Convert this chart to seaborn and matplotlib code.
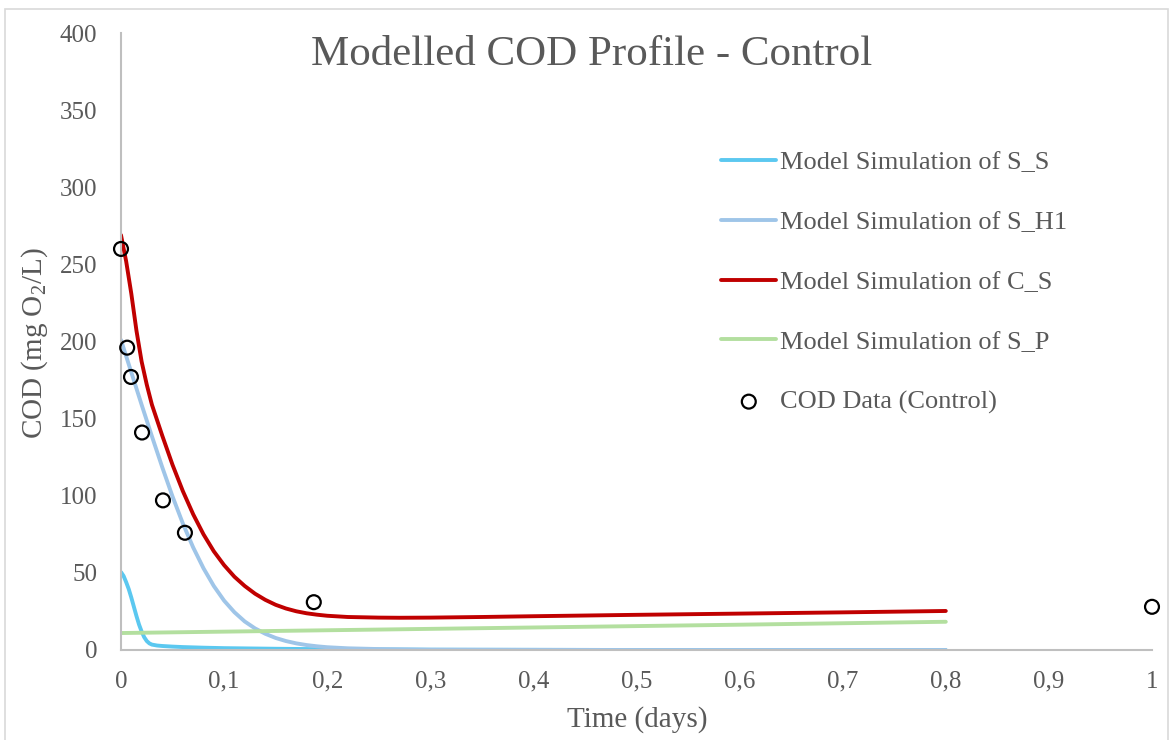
import matplotlib
matplotlib.use("Agg")
import matplotlib.pyplot as plt
import seaborn as sns
import pandas as pd
from matplotlib.patches import Rectangle

# ---------------- data ----------------
t_ss = [0, 0.0025, 0.005, 0.0075, 0.01, 0.0125, 0.015, 0.0175, 0.02, 0.0225, 0.025, 0.0275,
        0.03, 0.035, 0.04, 0.05, 0.06, 0.08, 0.1, 0.15, 0.2, 0.3, 0.4, 0.5, 0.6, 0.7, 0.8]
s_s = [50.5, 48, 44, 39.5, 34, 28, 22, 16.5, 12, 8.3, 5.8, 4.3,
       3.5, 2.9, 2.6, 2.2, 1.9, 1.5, 1.2, 0.8, 0.5, 0.2, 0.1, 0.0, 0.0, 0.0, 0.0]

t_h1 = [0, 0.01, 0.02, 0.03, 0.04, 0.05, 0.06, 0.07, 0.08, 0.09, 0.1, 0.11, 0.12, 0.13,
        0.14, 0.15, 0.16, 0.17, 0.18, 0.19, 0.2, 0.22, 0.25, 0.3, 0.4, 0.5, 0.6, 0.7, 0.8]
s_h1 = [201, 180, 159, 138.5, 118.5, 99.5, 82, 66.5, 53, 41.5, 32, 24.5, 18.5, 14,
        10.5, 7.8, 5.8, 4.3, 3.2, 2.4, 1.8, 1.1, 0.6, 0.2, 0.1, 0.0, 0.0, 0.0, 0.0]

t_cs = [0, 0.005, 0.01, 0.015, 0.02, 0.025, 0.03, 0.04, 0.05, 0.06, 0.07, 0.08, 0.09,
        0.1, 0.11, 0.12, 0.13, 0.14, 0.15, 0.16, 0.17, 0.18, 0.19, 0.2, 0.22, 0.25, 0.27,
        0.3, 0.35, 0.4, 0.5, 0.6, 0.7, 0.8]
c_s = [269, 252, 231, 207, 187, 172, 159, 139, 120, 103, 88, 75, 64,
       55, 47.5, 41.5, 36.5, 32.5, 29.3, 26.9, 25.1, 23.8, 22.9, 22.2, 21.4, 21.0, 20.9,
       21.0, 21.4, 21.9, 22.8, 23.6, 24.4, 25.3]

t_sp = [0, 0.2, 0.4, 0.6, 0.8]
s_p = [11.0, 12.8, 14.6, 16.4, 18.3]

t_obs = [0, 0.006, 0.0097, 0.0204, 0.0407, 0.062, 0.187, 1.0]
cod_obs = [260, 196, 177, 141, 97, 76, 31, 28]

x_ticks = [0, 0.1, 0.2, 0.3, 0.4, 0.5, 0.6, 0.7, 0.8, 0.9, 1.0]
x_tick_labels = ["0", "0,1", "0,2", "0,3", "0,4", "0,5", "0,6", "0,7", "0,8", "0,9", "1"]
y_ticks = [0, 50, 100, 150, 200, 250, 300, 350, 400]

series_names = ["Model Simulation of S_S", "Model Simulation of S_H1",
                "Model Simulation of C_S", "Model Simulation of S_P"]
obs_name = "COD Data (Control)"
title = "Modelled COD Profile - Control"

# ---------------- style ----------------
sns.set_theme(style="white")
plt.rcParams["font.family"] = ["Liberation Serif", "DejaVu Serif"]
plt.rcParams["mathtext.fontset"] = "custom"
plt.rcParams["mathtext.rm"] = "Liberation Serif"
plt.rcParams["mathtext.it"] = "Liberation Serif:italic"
TXT = "#595959"

fig = plt.figure(figsize=(11.73, 7.40), dpi=100)
ax = fig.add_axes([121 / 1173, 1 - 650 / 740, (1152 - 121) / 1173, (650 - 33) / 740])

colors = ["#5BC8F0", "#9FC5E8", "#C00000", "#B3DF9F"]
frames = [
    pd.DataFrame({"t": t_ss, "v": s_s}),
    pd.DataFrame({"t": t_h1, "v": s_h1}),
    pd.DataFrame({"t": t_cs, "v": c_s}),
    pd.DataFrame({"t": t_sp, "v": s_p}),
]
order = [3, 1, 0, 2]  # draw order: green, light blue, cyan, red
for i in order:
    sns.lineplot(data=frames[i], x="t", y="v", ax=ax, color=colors[i], lw=2.8,
                 label=series_names[i], solid_capstyle="round", solid_joinstyle="round",
                 zorder=2 + i * 0.1)

obs = pd.DataFrame({"t": t_obs, "v": cod_obs})
sns.scatterplot(data=obs, x="t", y="v", ax=ax, marker="o", s=100, facecolor="none",
                edgecolor="black", linewidth=1.6, label=obs_name, zorder=5, clip_on=False)

ax.set_xlim(0, 1)
ax.set_ylim(0, 400)
ax.set_xticks(x_ticks)
ax.set_xticklabels(x_tick_labels)
ax.set_yticks(y_ticks)
ax.tick_params(axis="both", length=0, labelsize=18, labelcolor=TXT)
ax.tick_params(axis="y", pad=17)
ax.tick_params(axis="x", pad=15)
for s in ["top", "right"]:
    ax.spines[s].set_visible(False)
for s in ["left", "bottom"]:
    ax.spines[s].set_color("#BFBFBF")
    ax.spines[s].set_linewidth(1.5)

ax.set_xlabel("Time (days)", fontsize=21, color=TXT)
ax.set_ylabel("COD (mg O$_2$/L)", fontsize=21, color=TXT)
ax.xaxis.set_label_coords((637 - 121) / 1031, (650 - 720) / 617)
ax.yaxis.set_label_coords((35 - 121) / 1031, (650 - 343) / 617)
ax.xaxis.label.set_verticalalignment("center")
ax.yaxis.label.set_verticalalignment("center")

fig.text(592 / 1173, 1 - 55 / 740, title, fontsize=31, color=TXT, ha="center", va="center")

handles, labels = ax.get_legend_handles_labels()
hmap = dict(zip(labels, handles))
wanted = series_names + [obs_name]
leg = ax.legend([hmap[l] for l in wanted], wanted, loc="upper left",
                bbox_to_anchor=(0.559, 0.848), frameon=False, fontsize=19,
                labelcolor=TXT, handlelength=2.1, handletextpad=0.15, labelspacing=1.38)

fig.patches.append(Rectangle((5 / 1173, -0.02), 1163 / 1173, 1 - 9 / 740 + 0.02,
                             transform=fig.transFigure, fill=False, edgecolor="#D9D9D9",
                             linewidth=1.2))

fig.savefig("out.png", dpi=100)
